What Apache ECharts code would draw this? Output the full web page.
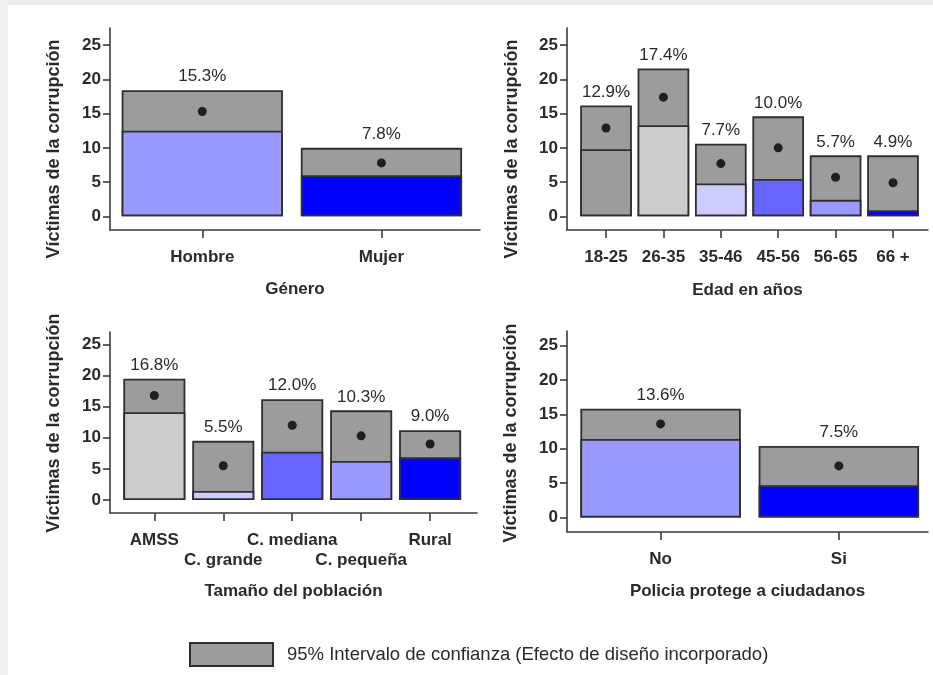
<!DOCTYPE html>
<html>
<head>
<meta charset="utf-8">
<script src="https://cdn.jsdelivr.net/npm/echarts@6/dist/echarts.min.js"></script>
<style>
html,body{margin:0;padding:0;background:#fff;}
#c{width:933px;height:675px;}
</style>
</head>
<body>
<div id="c"></div>
<script>
// ---- data ----
const genero = ['Hombre', 'Mujer'];
const generoMedia = [15.3, 7.8];
const generoInf = [12.5, 6.0];
const generoSup = [18.4, 10.0];

const edad = ['18-25', '26-35', '35-46', '45-56', '56-65', '66 +'];
const edadMedia = [12.9, 17.4, 7.7, 10.0, 5.7, 4.9];
const edadInf = [9.8, 13.3, 4.8, 5.45, 2.4, 0.9];
const edadSup = [16.2, 21.6, 10.6, 14.6, 8.9, 8.9];

const tamano = ['AMSS', 'C. grande', 'C. mediana', 'C. pequeña', 'Rural'];
const tamanoMedia = [16.8, 5.5, 12.0, 10.3, 9.0];
const tamanoInf = [14.1, 1.45, 7.75, 6.25, 6.85];
const tamanoSup = [19.5, 9.5, 16.2, 14.4, 11.2];

const policia = ['No', 'Si'];
const policiaMedia = [13.6, 7.5];
const policiaInf = [11.4, 4.7];
const policiaSup = [15.8, 10.4];

const yTicks = [0, 5, 10, 15, 20, 25];
const yName = 'Víctimas de la corrupción';
const ciName = '95% Intervalo de confianza (Efecto de diseño incorporado)';

// ---- styles ----
const generoColores = ['#9999ff', '#0000ff'];
const edadColores = ['#9c9c9c', '#cccccc', '#ccccff', '#6666ff', '#9999ff', '#0000ff'];
const tamanoColores = ['#cccccc', '#ccccff', '#6666ff', '#9999ff', '#0000ff'];
const policiaColores = ['#9999ff', '#0000ff'];

const FONT = '"Liberation Sans", Arial, sans-serif';
const TXT = '#2a2a2a';
const AX = '#3c3c3c';
const CI = '#9c9c9c';
const EDGE = '#2f2f2f';

const panels = [
  {cats: genero, mean: generoMedia, lo: generoInf, hi: generoSup, col: generoColores, title: 'Género',
   grid: {left: 110, top: 28, width: 370, height: 202}, xr: [-0.515, 1.55], yr: [-2, 27.5], gap: 51, stagger: false,
   yname: [54, 149]},
  {cats: edad, mean: edadMedia, lo: edadInf, hi: edadSup, col: edadColores, title: 'Edad en años',
   grid: {left: 567, top: 28, width: 361, height: 202}, xr: [-0.68, 5.61], yr: [-2, 27.5], gap: 52, stagger: false,
   yname: [512, 149]},
  {cats: tamano, mean: tamanoMedia, lo: tamanoInf, hi: tamanoSup, col: tamanoColores, title: 'Tamaño del población',
   grid: {left: 110, top: 332, width: 367, height: 181}, xr: [-0.643, 4.68], yr: [-2.1, 27], gap: 70, stagger: true,
   yname: [54, 423]},
  {cats: policia, mean: policiaMedia, lo: policiaInf, hi: policiaSup, col: policiaColores, title: 'Policia protege a ciudadanos',
   grid: {left: 567, top: 331, width: 361, height: 201}, xr: [-0.525, 1.5], yr: [-2.1, 27.1], gap: 51, stagger: false,
   yname: [511, 433]}
];

const grids = [], xAxes = [], yAxes = [], series = [], graphics = [];

graphics.push({type: 'rect', shape: {x: 0, y: 0, width: 933, height: 5}, style: {fill: '#ececec'}, z: -10});
graphics.push({type: 'rect', shape: {x: 0, y: 0, width: 8, height: 675}, style: {fill: '#f1f1f1'}, z: -10});

panels.forEach((p, k) => {
  grids.push(Object.assign({containLabel: false}, p.grid));
  const idx = p.cats.map((c, i) => i);
  xAxes.push({
    type: 'value', gridIndex: k, min: p.xr[0], max: p.xr[1],
    name: p.title, nameLocation: 'middle', nameGap: p.gap,
    nameTextStyle: {fontFamily: FONT, fontSize: 17, fontWeight: 'bold', color: TXT},
    axisLine: {show: true, onZero: false, lineStyle: {color: AX, width: 1.6}},
    axisTick: {show: true, customValues: idx, length: 8, lineStyle: {color: AX, width: 1.6}},
    axisLabel: {
      customValues: idx, margin: 17, fontFamily: FONT, fontSize: 17, fontWeight: 'bold', color: TXT,
      lineHeight: 20,
      formatter: (v) => {
        const name = p.cats[Math.round(v)];
        return (p.stagger && Math.round(v) % 2 === 1) ? '\n' + name : name;
      }
    },
    splitLine: {show: false}
  });
  yAxes.push({
    type: 'value', gridIndex: k, min: p.yr[0], max: p.yr[1],
    axisLine: {show: true, onZero: false, lineStyle: {color: AX, width: 1.6}},
    axisTick: {show: true, customValues: yTicks, length: 7, lineStyle: {color: AX, width: 1.6}},
    axisLabel: {customValues: yTicks, margin: 9, fontFamily: FONT, fontSize: 17, fontWeight: 'bold', color: TXT},
    splitLine: {show: false}
  });
  // full confidence interval bar (0 -> upper), drawn first
  series.push({
    type: 'bar', name: ciName, xAxisIndex: k, yAxisIndex: k, barWidth: '90%', barGap: '-100%',
    data: p.hi.map((v, i) => [i, v]),
    itemStyle: {color: CI, borderColor: EDGE, borderWidth: 1.8},
    label: {
      show: true, position: 'top', distance: 5, fontFamily: FONT, fontSize: 17, color: TXT,
      formatter: (prm) => p.mean[prm.dataIndex].toFixed(1) + '%'
    },
    emphasis: {disabled: true}, silent: true
  });
  // lower bound bar (0 -> lower), coloured, drawn on top
  series.push({
    type: 'bar', name: 'inf' + k, xAxisIndex: k, yAxisIndex: k, barWidth: '90%', barGap: '-100%',
    data: p.lo.map((v, i) => ({value: [i, v], itemStyle: {color: p.col[i]}})),
    itemStyle: {borderColor: EDGE, borderWidth: 1.8},
    emphasis: {disabled: true}, silent: true
  });
  series.push({
    type: 'scatter', name: 'media' + k, xAxisIndex: k, yAxisIndex: k, symbolSize: 9,
    data: p.mean.map((v, i) => [i, v]),
    itemStyle: {color: '#000'}, z: 5, silent: true
  });
  graphics.push({
    type: 'text', x: p.yname[0], y: p.yname[1], rotation: Math.PI / 2,
    style: {text: yName, fontFamily: FONT, fontSize: 18, fontWeight: 'bold', fill: TXT, align: 'center', verticalAlign: 'middle'}
  });
});

const chart = echarts.init(document.getElementById('c'), null, {renderer: 'canvas'});
chart.setOption({
  animation: false,
  backgroundColor: '#ffffff',
  grid: grids, xAxis: xAxes, yAxis: yAxes, series: series,
  graphic: graphics,
  legend: {
    data: [ciName], left: 189, top: 642, padding: 0, itemWidth: 83, itemHeight: 23, icon: 'rect', selectedMode: false,
    textStyle: {fontFamily: FONT, fontSize: 18.5, color: TXT, padding: [0, 0, 0, 9]}
  }
});
</script>
</body>
</html>
